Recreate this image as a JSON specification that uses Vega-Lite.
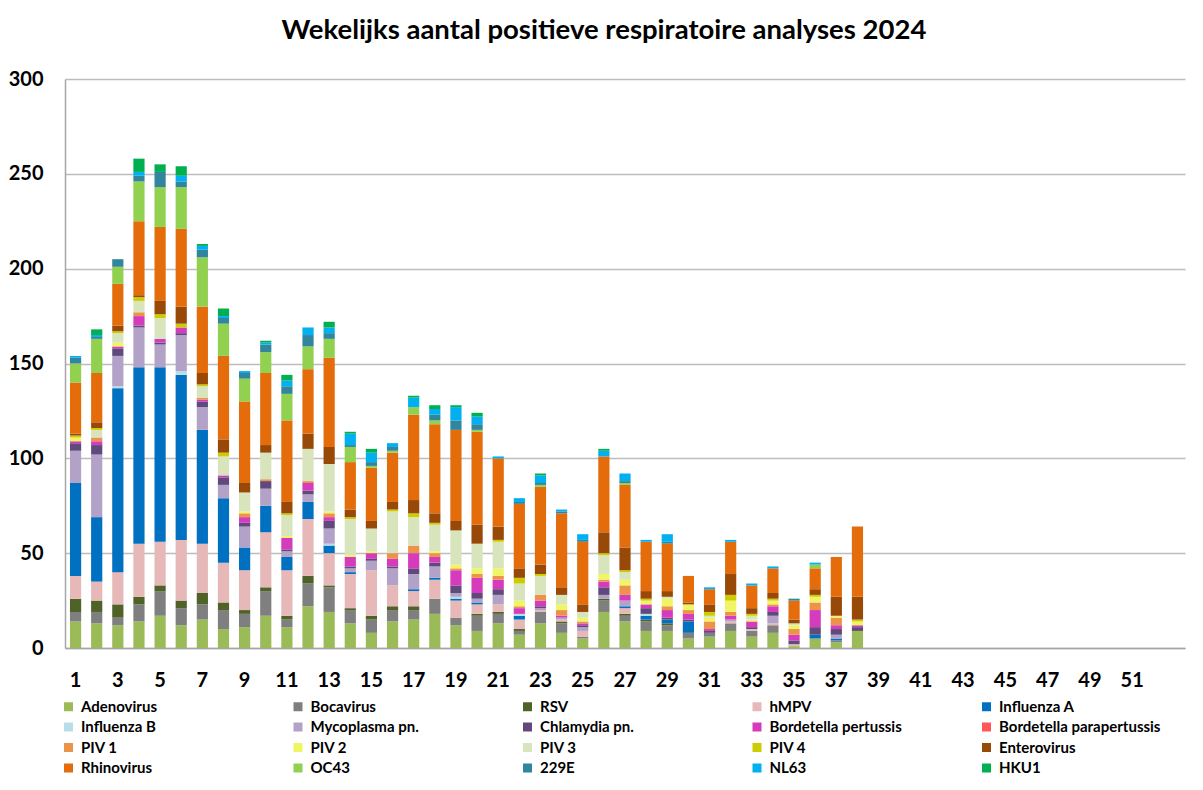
{
"$schema": "https://vega.github.io/schema/vega-lite/v6.json",
"width": 1120, "height": 569,
"autosize": {"type": "none"},
"padding": {"left": 65, "top": 79, "right": 18, "bottom": 142},
"background": "white",
"title": {"text": "Wekelijks aantal positieve respiratoire analyses 2024", "font": "Lato", "fontSize": 27.5, "fontWeight": "bold", "color": "#000000", "anchor": "middle", "dx": -21, "offset": 25},
"data": {"values": [
{"week":1,"virus":"Adenovirus","n":14},{"week":1,"virus":"Bocavirus","n":5},{"week":1,"virus":"RSV","n":7},{"week":1,"virus":"hMPV","n":12},{"week":1,"virus":"Influenza A","n":49},{"week":1,"virus":"Mycoplasma pn.","n":17},{"week":1,"virus":"Chlamydia pn.","n":4},{"week":1,"virus":"Bordetella pertussis","n":1},{"week":1,"virus":"PIV 2","n":2},{"week":1,"virus":"PIV 4","n":1},{"week":1,"virus":"Enterovirus","n":1},{"week":1,"virus":"Rhinovirus","n":27},{"week":1,"virus":"OC43","n":10},{"week":1,"virus":"229E","n":3},{"week":1,"virus":"NL63","n":1},
{"week":2,"virus":"Adenovirus","n":13},{"week":2,"virus":"Bocavirus","n":6},{"week":2,"virus":"RSV","n":6},{"week":2,"virus":"hMPV","n":10},{"week":2,"virus":"Influenza A","n":34},{"week":2,"virus":"Mycoplasma pn.","n":33},{"week":2,"virus":"Chlamydia pn.","n":5},{"week":2,"virus":"Bordetella pertussis","n":2},{"week":2,"virus":"PIV 1","n":2},{"week":2,"virus":"PIV 3","n":4},{"week":2,"virus":"PIV 4","n":1},{"week":2,"virus":"Enterovirus","n":3},{"week":2,"virus":"Rhinovirus","n":26},{"week":2,"virus":"OC43","n":18},{"week":2,"virus":"229E","n":1},{"week":2,"virus":"NL63","n":1},{"week":2,"virus":"HKU1","n":3},
{"week":3,"virus":"Adenovirus","n":12},{"week":3,"virus":"Bocavirus","n":4},{"week":3,"virus":"RSV","n":7},{"week":3,"virus":"hMPV","n":17},{"week":3,"virus":"Influenza A","n":97},{"week":3,"virus":"Influenza B","n":1},{"week":3,"virus":"Mycoplasma pn.","n":16},{"week":3,"virus":"Chlamydia pn.","n":4},{"week":3,"virus":"Bordetella pertussis","n":1},{"week":3,"virus":"PIV 2","n":2},{"week":3,"virus":"PIV 3","n":5},{"week":3,"virus":"PIV 4","n":1},{"week":3,"virus":"Enterovirus","n":3},{"week":3,"virus":"Rhinovirus","n":22},{"week":3,"virus":"OC43","n":9},{"week":3,"virus":"229E","n":4},
{"week":4,"virus":"Adenovirus","n":14},{"week":4,"virus":"Bocavirus","n":9},{"week":4,"virus":"RSV","n":4},{"week":4,"virus":"hMPV","n":28},{"week":4,"virus":"Influenza A","n":93},{"week":4,"virus":"Mycoplasma pn.","n":21},{"week":4,"virus":"Chlamydia pn.","n":1},{"week":4,"virus":"Bordetella pertussis","n":5},{"week":4,"virus":"PIV 1","n":2},{"week":4,"virus":"PIV 3","n":6},{"week":4,"virus":"PIV 4","n":2},{"week":4,"virus":"Enterovirus","n":1},{"week":4,"virus":"Rhinovirus","n":39},{"week":4,"virus":"OC43","n":21},{"week":4,"virus":"229E","n":3},{"week":4,"virus":"NL63","n":2},{"week":4,"virus":"HKU1","n":7},
{"week":5,"virus":"Adenovirus","n":17},{"week":5,"virus":"Bocavirus","n":13},{"week":5,"virus":"RSV","n":3},{"week":5,"virus":"hMPV","n":23},{"week":5,"virus":"Influenza A","n":92},{"week":5,"virus":"Mycoplasma pn.","n":12},{"week":5,"virus":"Chlamydia pn.","n":1},{"week":5,"virus":"Bordetella pertussis","n":2},{"week":5,"virus":"PIV 3","n":11},{"week":5,"virus":"PIV 4","n":2},{"week":5,"virus":"Enterovirus","n":7},{"week":5,"virus":"Rhinovirus","n":39},{"week":5,"virus":"OC43","n":21},{"week":5,"virus":"229E","n":8},{"week":5,"virus":"HKU1","n":4},
{"week":6,"virus":"Adenovirus","n":12},{"week":6,"virus":"Bocavirus","n":9},{"week":6,"virus":"RSV","n":4},{"week":6,"virus":"hMPV","n":32},{"week":6,"virus":"Influenza A","n":87},{"week":6,"virus":"Influenza B","n":2},{"week":6,"virus":"Mycoplasma pn.","n":19},{"week":6,"virus":"Chlamydia pn.","n":1},{"week":6,"virus":"Bordetella pertussis","n":3},{"week":6,"virus":"PIV 4","n":2},{"week":6,"virus":"Enterovirus","n":9},{"week":6,"virus":"Rhinovirus","n":41},{"week":6,"virus":"OC43","n":22},{"week":6,"virus":"229E","n":3},{"week":6,"virus":"NL63","n":3},{"week":6,"virus":"HKU1","n":5},
{"week":7,"virus":"Adenovirus","n":15},{"week":7,"virus":"Bocavirus","n":8},{"week":7,"virus":"RSV","n":6},{"week":7,"virus":"hMPV","n":26},{"week":7,"virus":"Influenza A","n":60},{"week":7,"virus":"Mycoplasma pn.","n":12},{"week":7,"virus":"Chlamydia pn.","n":3},{"week":7,"virus":"Bordetella pertussis","n":1},{"week":7,"virus":"PIV 1","n":1},{"week":7,"virus":"PIV 3","n":6},{"week":7,"virus":"PIV 4","n":1},{"week":7,"virus":"Enterovirus","n":6},{"week":7,"virus":"Rhinovirus","n":35},{"week":7,"virus":"OC43","n":26},{"week":7,"virus":"229E","n":4},{"week":7,"virus":"NL63","n":2},{"week":7,"virus":"HKU1","n":1},
{"week":8,"virus":"Adenovirus","n":10},{"week":8,"virus":"Bocavirus","n":10},{"week":8,"virus":"RSV","n":4},{"week":8,"virus":"hMPV","n":21},{"week":8,"virus":"Influenza A","n":34},{"week":8,"virus":"Mycoplasma pn.","n":7},{"week":8,"virus":"Chlamydia pn.","n":4},{"week":8,"virus":"Bordetella pertussis","n":1},{"week":8,"virus":"PIV 3","n":10},{"week":8,"virus":"PIV 4","n":2},{"week":8,"virus":"Enterovirus","n":7},{"week":8,"virus":"Rhinovirus","n":44},{"week":8,"virus":"OC43","n":17},{"week":8,"virus":"229E","n":3},{"week":8,"virus":"NL63","n":1},{"week":8,"virus":"HKU1","n":4},
{"week":9,"virus":"Adenovirus","n":11},{"week":9,"virus":"Bocavirus","n":7},{"week":9,"virus":"RSV","n":2},{"week":9,"virus":"hMPV","n":21},{"week":9,"virus":"Influenza A","n":12},{"week":9,"virus":"Mycoplasma pn.","n":11},{"week":9,"virus":"Chlamydia pn.","n":2},{"week":9,"virus":"Bordetella pertussis","n":3},{"week":9,"virus":"PIV 1","n":2},{"week":9,"virus":"PIV 2","n":1},{"week":9,"virus":"PIV 3","n":10},{"week":9,"virus":"Enterovirus","n":5},{"week":9,"virus":"Rhinovirus","n":43},{"week":9,"virus":"OC43","n":12},{"week":9,"virus":"229E","n":3},{"week":9,"virus":"NL63","n":1},
{"week":10,"virus":"Adenovirus","n":17},{"week":10,"virus":"Bocavirus","n":13},{"week":10,"virus":"RSV","n":2},{"week":10,"virus":"hMPV","n":29},{"week":10,"virus":"Influenza A","n":14},{"week":10,"virus":"Mycoplasma pn.","n":9},{"week":10,"virus":"Chlamydia pn.","n":4},{"week":10,"virus":"PIV 1","n":1},{"week":10,"virus":"PIV 3","n":14},{"week":10,"virus":"Enterovirus","n":4},{"week":10,"virus":"Rhinovirus","n":38},{"week":10,"virus":"OC43","n":11},{"week":10,"virus":"229E","n":4},{"week":10,"virus":"NL63","n":1},{"week":10,"virus":"HKU1","n":1},
{"week":11,"virus":"Adenovirus","n":11},{"week":11,"virus":"Bocavirus","n":4},{"week":11,"virus":"RSV","n":2},{"week":11,"virus":"hMPV","n":24},{"week":11,"virus":"Influenza A","n":7},{"week":11,"virus":"Mycoplasma pn.","n":3},{"week":11,"virus":"Chlamydia pn.","n":1},{"week":11,"virus":"Bordetella pertussis","n":6},{"week":11,"virus":"PIV 2","n":1},{"week":11,"virus":"PIV 3","n":11},{"week":11,"virus":"PIV 4","n":1},{"week":11,"virus":"Enterovirus","n":6},{"week":11,"virus":"Rhinovirus","n":43},{"week":11,"virus":"OC43","n":14},{"week":11,"virus":"229E","n":4},{"week":11,"virus":"NL63","n":3},{"week":11,"virus":"HKU1","n":3},
{"week":12,"virus":"Adenovirus","n":22},{"week":12,"virus":"Bocavirus","n":12},{"week":12,"virus":"RSV","n":4},{"week":12,"virus":"hMPV","n":30},{"week":12,"virus":"Influenza A","n":9},{"week":12,"virus":"Mycoplasma pn.","n":4},{"week":12,"virus":"Chlamydia pn.","n":2},{"week":12,"virus":"Bordetella pertussis","n":4},{"week":12,"virus":"PIV 1","n":1},{"week":12,"virus":"PIV 3","n":17},{"week":12,"virus":"Enterovirus","n":8},{"week":12,"virus":"Rhinovirus","n":34},{"week":12,"virus":"OC43","n":12},{"week":12,"virus":"229E","n":6},{"week":12,"virus":"NL63","n":4},
{"week":13,"virus":"Adenovirus","n":19},{"week":13,"virus":"Bocavirus","n":13},{"week":13,"virus":"RSV","n":1},{"week":13,"virus":"hMPV","n":17},{"week":13,"virus":"Influenza A","n":4},{"week":13,"virus":"Influenza B","n":1},{"week":13,"virus":"Mycoplasma pn.","n":8},{"week":13,"virus":"Chlamydia pn.","n":4},{"week":13,"virus":"Bordetella pertussis","n":2},{"week":13,"virus":"PIV 1","n":2},{"week":13,"virus":"PIV 2","n":1},{"week":13,"virus":"PIV 3","n":25},{"week":13,"virus":"Enterovirus","n":9},{"week":13,"virus":"Rhinovirus","n":47},{"week":13,"virus":"OC43","n":10},{"week":13,"virus":"229E","n":3},{"week":13,"virus":"NL63","n":3},{"week":13,"virus":"HKU1","n":3},
{"week":14,"virus":"Adenovirus","n":13},{"week":14,"virus":"Bocavirus","n":7},{"week":14,"virus":"RSV","n":1},{"week":14,"virus":"hMPV","n":18},{"week":14,"virus":"Influenza A","n":1},{"week":14,"virus":"Mycoplasma pn.","n":2},{"week":14,"virus":"Chlamydia pn.","n":1},{"week":14,"virus":"Bordetella pertussis","n":5},{"week":14,"virus":"PIV 2","n":1},{"week":14,"virus":"PIV 3","n":19},{"week":14,"virus":"PIV 4","n":1},{"week":14,"virus":"Enterovirus","n":4},{"week":14,"virus":"Rhinovirus","n":25},{"week":14,"virus":"OC43","n":8},{"week":14,"virus":"229E","n":1},{"week":14,"virus":"NL63","n":6},{"week":14,"virus":"HKU1","n":1},
{"week":15,"virus":"Adenovirus","n":8},{"week":15,"virus":"Bocavirus","n":7},{"week":15,"virus":"RSV","n":2},{"week":15,"virus":"hMPV","n":24},{"week":15,"virus":"Mycoplasma pn.","n":5},{"week":15,"virus":"Chlamydia pn.","n":1},{"week":15,"virus":"Bordetella pertussis","n":3},{"week":15,"virus":"PIV 2","n":1},{"week":15,"virus":"PIV 3","n":12},{"week":15,"virus":"Enterovirus","n":4},{"week":15,"virus":"Rhinovirus","n":28},{"week":15,"virus":"OC43","n":1},{"week":15,"virus":"229E","n":2},{"week":15,"virus":"NL63","n":5},{"week":15,"virus":"HKU1","n":2},
{"week":16,"virus":"Adenovirus","n":14},{"week":16,"virus":"Bocavirus","n":6},{"week":16,"virus":"RSV","n":2},{"week":16,"virus":"hMPV","n":11},{"week":16,"virus":"Mycoplasma pn.","n":9},{"week":16,"virus":"Chlamydia pn.","n":1},{"week":16,"virus":"Bordetella pertussis","n":4},{"week":16,"virus":"PIV 1","n":3},{"week":16,"virus":"PIV 3","n":22},{"week":16,"virus":"PIV 4","n":1},{"week":16,"virus":"Enterovirus","n":4},{"week":16,"virus":"Rhinovirus","n":26},{"week":16,"virus":"OC43","n":1},{"week":16,"virus":"229E","n":2},{"week":16,"virus":"NL63","n":2},
{"week":17,"virus":"Adenovirus","n":15},{"week":17,"virus":"Bocavirus","n":5},{"week":17,"virus":"RSV","n":2},{"week":17,"virus":"hMPV","n":8},{"week":17,"virus":"Influenza A","n":1},{"week":17,"virus":"Mycoplasma pn.","n":8},{"week":17,"virus":"Chlamydia pn.","n":3},{"week":17,"virus":"Bordetella pertussis","n":8},{"week":17,"virus":"PIV 1","n":4},{"week":17,"virus":"PIV 3","n":15},{"week":17,"virus":"PIV 4","n":2},{"week":17,"virus":"Enterovirus","n":7},{"week":17,"virus":"Rhinovirus","n":45},{"week":17,"virus":"OC43","n":4},{"week":17,"virus":"NL63","n":5},{"week":17,"virus":"HKU1","n":1},
{"week":18,"virus":"Adenovirus","n":18},{"week":18,"virus":"Bocavirus","n":8},{"week":18,"virus":"hMPV","n":10},{"week":18,"virus":"Influenza A","n":1},{"week":18,"virus":"Mycoplasma pn.","n":6},{"week":18,"virus":"Chlamydia pn.","n":2},{"week":18,"virus":"Bordetella pertussis","n":3},{"week":18,"virus":"PIV 1","n":2},{"week":18,"virus":"PIV 2","n":1},{"week":18,"virus":"PIV 3","n":14},{"week":18,"virus":"PIV 4","n":1},{"week":18,"virus":"Enterovirus","n":5},{"week":18,"virus":"Rhinovirus","n":47},{"week":18,"virus":"OC43","n":2},{"week":18,"virus":"229E","n":3},{"week":18,"virus":"NL63","n":3},{"week":18,"virus":"HKU1","n":2},
{"week":19,"virus":"Adenovirus","n":12},{"week":19,"virus":"Bocavirus","n":4},{"week":19,"virus":"hMPV","n":9},{"week":19,"virus":"Influenza A","n":1},{"week":19,"virus":"Influenza B","n":1},{"week":19,"virus":"Mycoplasma pn.","n":2},{"week":19,"virus":"Chlamydia pn.","n":4},{"week":19,"virus":"Bordetella pertussis","n":8},{"week":19,"virus":"PIV 1","n":1},{"week":19,"virus":"PIV 2","n":2},{"week":19,"virus":"PIV 3","n":18},{"week":19,"virus":"Enterovirus","n":5},{"week":19,"virus":"Rhinovirus","n":48},{"week":19,"virus":"229E","n":5},{"week":19,"virus":"NL63","n":7},{"week":19,"virus":"HKU1","n":1},
{"week":20,"virus":"Adenovirus","n":9},{"week":20,"virus":"Bocavirus","n":8},{"week":20,"virus":"RSV","n":1},{"week":20,"virus":"hMPV","n":5},{"week":20,"virus":"Influenza A","n":1},{"week":20,"virus":"Mycoplasma pn.","n":2},{"week":20,"virus":"Chlamydia pn.","n":3},{"week":20,"virus":"Bordetella pertussis","n":8},{"week":20,"virus":"PIV 1","n":2},{"week":20,"virus":"PIV 2","n":3},{"week":20,"virus":"PIV 3","n":13},{"week":20,"virus":"Enterovirus","n":10},{"week":20,"virus":"Rhinovirus","n":49},{"week":20,"virus":"OC43","n":1},{"week":20,"virus":"229E","n":3},{"week":20,"virus":"NL63","n":4},{"week":20,"virus":"HKU1","n":2},
{"week":21,"virus":"Adenovirus","n":13},{"week":21,"virus":"Bocavirus","n":5},{"week":21,"virus":"RSV","n":1},{"week":21,"virus":"hMPV","n":4},{"week":21,"virus":"Mycoplasma pn.","n":5},{"week":21,"virus":"Chlamydia pn.","n":3},{"week":21,"virus":"Bordetella pertussis","n":5},{"week":21,"virus":"PIV 1","n":2},{"week":21,"virus":"PIV 2","n":4},{"week":21,"virus":"PIV 3","n":14},{"week":21,"virus":"PIV 4","n":1},{"week":21,"virus":"Enterovirus","n":7},{"week":21,"virus":"Rhinovirus","n":36},{"week":21,"virus":"NL63","n":1},
{"week":22,"virus":"Adenovirus","n":7},{"week":22,"virus":"Bocavirus","n":2},{"week":22,"virus":"RSV","n":1},{"week":22,"virus":"hMPV","n":5},{"week":22,"virus":"Influenza A","n":2},{"week":22,"virus":"Influenza B","n":1},{"week":22,"virus":"Bordetella pertussis","n":3},{"week":22,"virus":"PIV 1","n":1},{"week":22,"virus":"PIV 2","n":3},{"week":22,"virus":"PIV 3","n":9},{"week":22,"virus":"PIV 4","n":3},{"week":22,"virus":"Enterovirus","n":5},{"week":22,"virus":"Rhinovirus","n":34},{"week":22,"virus":"229E","n":1},{"week":22,"virus":"NL63","n":2},
{"week":23,"virus":"Adenovirus","n":13},{"week":23,"virus":"Bocavirus","n":6},{"week":23,"virus":"hMPV","n":1},{"week":23,"virus":"Mycoplasma pn.","n":1},{"week":23,"virus":"Chlamydia pn.","n":1},{"week":23,"virus":"Bordetella pertussis","n":3},{"week":23,"virus":"PIV 1","n":3},{"week":23,"virus":"PIV 3","n":10},{"week":23,"virus":"PIV 4","n":1},{"week":23,"virus":"Enterovirus","n":5},{"week":23,"virus":"Rhinovirus","n":41},{"week":23,"virus":"OC43","n":1},{"week":23,"virus":"229E","n":1},{"week":23,"virus":"NL63","n":4},{"week":23,"virus":"HKU1","n":1},
{"week":24,"virus":"Adenovirus","n":8},{"week":24,"virus":"Bocavirus","n":5},{"week":24,"virus":"RSV","n":1},{"week":24,"virus":"hMPV","n":1},{"week":24,"virus":"Mycoplasma pn.","n":1},{"week":24,"virus":"Bordetella pertussis","n":1},{"week":24,"virus":"PIV 1","n":3},{"week":24,"virus":"PIV 2","n":3},{"week":24,"virus":"PIV 3","n":5},{"week":24,"virus":"Enterovirus","n":4},{"week":24,"virus":"Rhinovirus","n":39},{"week":24,"virus":"229E","n":1},{"week":24,"virus":"NL63","n":1},
{"week":25,"virus":"Adenovirus","n":5},{"week":25,"virus":"Bocavirus","n":1},{"week":25,"virus":"hMPV","n":3},{"week":25,"virus":"Mycoplasma pn.","n":2},{"week":25,"virus":"Chlamydia pn.","n":1},{"week":25,"virus":"Bordetella pertussis","n":1},{"week":25,"virus":"PIV 1","n":1},{"week":25,"virus":"PIV 2","n":2},{"week":25,"virus":"PIV 3","n":3},{"week":25,"virus":"Enterovirus","n":4},{"week":25,"virus":"Rhinovirus","n":33},{"week":25,"virus":"229E","n":1},{"week":25,"virus":"NL63","n":3},
{"week":26,"virus":"Adenovirus","n":19},{"week":26,"virus":"Bocavirus","n":6},{"week":26,"virus":"RSV","n":1},{"week":26,"virus":"Mycoplasma pn.","n":2},{"week":26,"virus":"Chlamydia pn.","n":4},{"week":26,"virus":"Bordetella pertussis","n":3},{"week":26,"virus":"PIV 1","n":1},{"week":26,"virus":"PIV 2","n":3},{"week":26,"virus":"PIV 3","n":10},{"week":26,"virus":"PIV 4","n":1},{"week":26,"virus":"Enterovirus","n":11},{"week":26,"virus":"Rhinovirus","n":40},{"week":26,"virus":"NL63","n":3},{"week":26,"virus":"HKU1","n":1},
{"week":27,"virus":"Adenovirus","n":14},{"week":27,"virus":"Bocavirus","n":3},{"week":27,"virus":"RSV","n":1},{"week":27,"virus":"hMPV","n":3},{"week":27,"virus":"Influenza A","n":1},{"week":27,"virus":"Mycoplasma pn.","n":3},{"week":27,"virus":"Bordetella pertussis","n":3},{"week":27,"virus":"PIV 1","n":5},{"week":27,"virus":"PIV 2","n":3},{"week":27,"virus":"PIV 3","n":4},{"week":27,"virus":"PIV 4","n":1},{"week":27,"virus":"Enterovirus","n":12},{"week":27,"virus":"Rhinovirus","n":33},{"week":27,"virus":"OC43","n":1},{"week":27,"virus":"229E","n":1},{"week":27,"virus":"NL63","n":4},
{"week":28,"virus":"Adenovirus","n":9},{"week":28,"virus":"Bocavirus","n":5},{"week":28,"virus":"RSV","n":1},{"week":28,"virus":"Influenza A","n":2},{"week":28,"virus":"Influenza B","n":1},{"week":28,"virus":"Chlamydia pn.","n":3},{"week":28,"virus":"Bordetella pertussis","n":2},{"week":28,"virus":"PIV 2","n":2},{"week":28,"virus":"PIV 4","n":1},{"week":28,"virus":"Enterovirus","n":4},{"week":28,"virus":"Rhinovirus","n":26},{"week":28,"virus":"NL63","n":1},
{"week":29,"virus":"Adenovirus","n":9},{"week":29,"virus":"Bocavirus","n":3},{"week":29,"virus":"RSV","n":1},{"week":29,"virus":"Influenza A","n":2},{"week":29,"virus":"Chlamydia pn.","n":1},{"week":29,"virus":"Bordetella pertussis","n":4},{"week":29,"virus":"PIV 1","n":2},{"week":29,"virus":"PIV 2","n":4},{"week":29,"virus":"PIV 3","n":1},{"week":29,"virus":"Enterovirus","n":3},{"week":29,"virus":"Rhinovirus","n":25},{"week":29,"virus":"229E","n":1},{"week":29,"virus":"NL63","n":4},
{"week":30,"virus":"Adenovirus","n":5},{"week":30,"virus":"Bocavirus","n":3},{"week":30,"virus":"Influenza A","n":6},{"week":30,"virus":"Chlamydia pn.","n":1},{"week":30,"virus":"Bordetella pertussis","n":3},{"week":30,"virus":"PIV 1","n":2},{"week":30,"virus":"PIV 2","n":3},{"week":30,"virus":"Enterovirus","n":1},{"week":30,"virus":"Rhinovirus","n":14},
{"week":31,"virus":"Adenovirus","n":6},{"week":31,"virus":"Bocavirus","n":2},{"week":31,"virus":"Chlamydia pn.","n":1},{"week":31,"virus":"Bordetella pertussis","n":1},{"week":31,"virus":"PIV 1","n":4},{"week":31,"virus":"PIV 2","n":2},{"week":31,"virus":"PIV 3","n":1},{"week":31,"virus":"PIV 4","n":2},{"week":31,"virus":"Enterovirus","n":4},{"week":31,"virus":"Rhinovirus","n":8},{"week":31,"virus":"NL63","n":1},
{"week":32,"virus":"Adenovirus","n":9},{"week":32,"virus":"Bocavirus","n":4},{"week":32,"virus":"hMPV","n":1},{"week":32,"virus":"Mycoplasma pn.","n":1},{"week":32,"virus":"Bordetella pertussis","n":2},{"week":32,"virus":"PIV 1","n":2},{"week":32,"virus":"PIV 2","n":6},{"week":32,"virus":"PIV 4","n":3},{"week":32,"virus":"Enterovirus","n":11},{"week":32,"virus":"Rhinovirus","n":17},{"week":32,"virus":"NL63","n":1},
{"week":33,"virus":"Adenovirus","n":6},{"week":33,"virus":"Bocavirus","n":3},{"week":33,"virus":"hMPV","n":1},{"week":33,"virus":"Chlamydia pn.","n":1},{"week":33,"virus":"Bordetella pertussis","n":3},{"week":33,"virus":"PIV 2","n":1},{"week":33,"virus":"PIV 3","n":2},{"week":33,"virus":"PIV 4","n":1},{"week":33,"virus":"Enterovirus","n":3},{"week":33,"virus":"Rhinovirus","n":12},{"week":33,"virus":"NL63","n":1},
{"week":34,"virus":"Adenovirus","n":8},{"week":34,"virus":"Bocavirus","n":4},{"week":34,"virus":"hMPV","n":1},{"week":34,"virus":"Mycoplasma pn.","n":4},{"week":34,"virus":"Chlamydia pn.","n":2},{"week":34,"virus":"Bordetella pertussis","n":3},{"week":34,"virus":"PIV 1","n":1},{"week":34,"virus":"PIV 2","n":2},{"week":34,"virus":"PIV 4","n":1},{"week":34,"virus":"Enterovirus","n":3},{"week":34,"virus":"Rhinovirus","n":13},{"week":34,"virus":"NL63","n":1},
{"week":35,"virus":"Adenovirus","n":1},{"week":35,"virus":"hMPV","n":1},{"week":35,"virus":"Chlamydia pn.","n":2},{"week":35,"virus":"Bordetella pertussis","n":3},{"week":35,"virus":"PIV 1","n":3},{"week":35,"virus":"PIV 2","n":2},{"week":35,"virus":"PIV 3","n":1},{"week":35,"virus":"Enterovirus","n":2},{"week":35,"virus":"Rhinovirus","n":10},{"week":35,"virus":"229E","n":1},
{"week":36,"virus":"Adenovirus","n":5},{"week":36,"virus":"Influenza A","n":2},{"week":36,"virus":"Chlamydia pn.","n":4},{"week":36,"virus":"Bordetella pertussis","n":9},{"week":36,"virus":"PIV 1","n":4},{"week":36,"virus":"PIV 2","n":3},{"week":36,"virus":"PIV 4","n":1},{"week":36,"virus":"Enterovirus","n":3},{"week":36,"virus":"Rhinovirus","n":11},{"week":36,"virus":"OC43","n":2},{"week":36,"virus":"NL63","n":1},
{"week":37,"virus":"Adenovirus","n":3},{"week":37,"virus":"Bocavirus","n":1},{"week":37,"virus":"Influenza A","n":1},{"week":37,"virus":"Mycoplasma pn.","n":2},{"week":37,"virus":"Chlamydia pn.","n":3},{"week":37,"virus":"Bordetella pertussis","n":2},{"week":37,"virus":"PIV 1","n":4},{"week":37,"virus":"PIV 2","n":1},{"week":37,"virus":"Enterovirus","n":10},{"week":37,"virus":"Rhinovirus","n":21},
{"week":38,"virus":"Adenovirus","n":9},{"week":38,"virus":"Chlamydia pn.","n":2},{"week":38,"virus":"Bordetella pertussis","n":1},{"week":38,"virus":"PIV 2","n":2},{"week":38,"virus":"PIV 4","n":1},{"week":38,"virus":"Enterovirus","n":12},{"week":38,"virus":"Rhinovirus","n":37}
]},
"transform": [{"calculate": "indexof(['Adenovirus','Bocavirus','RSV','hMPV','Influenza A','Influenza B','Mycoplasma pn.','Chlamydia pn.','Bordetella pertussis','Bordetella parapertussis','PIV 1','PIV 2','PIV 3','PIV 4','Enterovirus','Rhinovirus','OC43','229E','NL63','HKU1'], datum.virus)", "as": "stackOrder"}],
"mark": {"type": "bar"},
"encoding": {
  "x": {"field": "week", "type": "ordinal",
    "scale": {"domain": [1,2,3,4,5,6,7,8,9,10,11,12,13,14,15,16,17,18,19,20,21,22,23,24,25,26,27,28,29,30,31,32,33,34,35,36,37,38,39,40,41,42,43,44,45,46,47,48,49,50,51,52,53], "paddingInner": 0.47, "paddingOuter": 0.235},
    "axis": {"title": null, "labelAngle": 0, "ticks": false, "domainColor": "#A6A6A6", "domainWidth": 1.5, "labelFont": "Lato", "labelFontSize": 20, "labelFontWeight": "bold", "labelColor": "#000000", "labelPadding": 22,
      "labelExpr": "(datum.value % 2 == 1 && datum.value <= 51) ? datum.label : ''"}},
  "y": {"field": "n", "type": "quantitative", "stack": "zero",
    "scale": {"domain": [0, 300], "nice": false},
    "axis": {"title": null, "values": [0,50,100,150,200,250,300], "ticks": false, "domainColor": "#A6A6A6", "domainWidth": 1.5, "gridColor": "#BDBDBD", "gridWidth": 1.5, "labelFont": "Lato", "labelFontSize": 20, "labelFontWeight": "bold", "labelColor": "#000000", "labelPadding": 22}},
  "order": {"field": "stackOrder", "type": "quantitative", "sort": "ascending"},
  "color": {"field": "virus", "type": "nominal",
    "sort": ["Adenovirus","Bocavirus","RSV","hMPV","Influenza A","Influenza B","Mycoplasma pn.","Chlamydia pn.","Bordetella pertussis","Bordetella parapertussis","PIV 1","PIV 2","PIV 3","PIV 4","Enterovirus","Rhinovirus","OC43","229E","NL63","HKU1"],
    "scale": {"domain": ["Adenovirus","Bocavirus","RSV","hMPV","Influenza A","Influenza B","Mycoplasma pn.","Chlamydia pn.","Bordetella pertussis","Bordetella parapertussis","PIV 1","PIV 2","PIV 3","PIV 4","Enterovirus","Rhinovirus","OC43","229E","NL63","HKU1"],
      "range": ["#9BBB59","#7F7F7F","#4F6228","#E6B9B8","#0070C0","#B7DEE8","#B3A2C7","#604A7B","#D63BBD","#FF5757","#EB924B","#F0F564","#D8E4BC","#CCCC00","#984807","#E46C0A","#92D050","#31859C","#00B0F0","#00B050"]},
    "legend": {"title": null, "orient": "none", "legendX": -4, "legendY": 620, "direction": "horizontal", "columns": 5, "gridAlign": "all", "columnPadding": 47.5, "rowPadding": 4.5, "padding": 0, "symbolType": "square", "symbolSize": 81, "symbolStrokeWidth": 0, "labelFont": "Lato", "labelFontSize": 15, "labelFontWeight": "bold", "labelColor": "#000000", "labelOffset": 5, "labelLimit": 300}}
},
"config": {"view": {"stroke": null}, "axis": {"gridOpacity": 1}}
}
